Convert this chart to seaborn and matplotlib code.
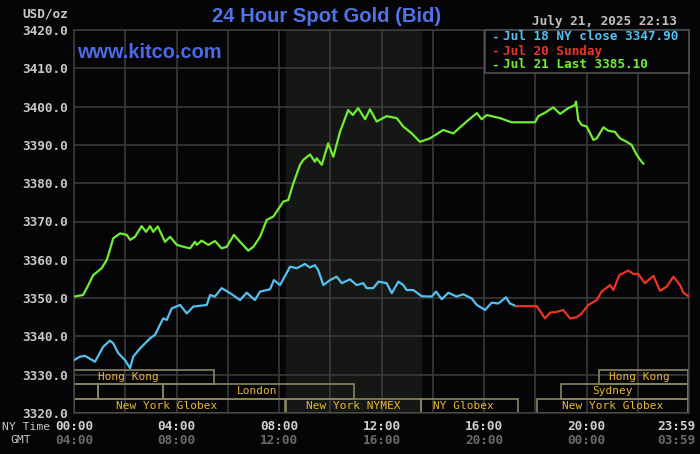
import matplotlib
matplotlib.use('Agg')
import matplotlib.pyplot as plt
import matplotlib.transforms as mtransforms
from matplotlib.patches import Rectangle
import pandas as pd
import seaborn as sns

# hours after 00:00 NY time, bid price (USD/oz)
green_hours = [0.0, 0.35, 0.50, 0.75, 1.08, 1.28, 1.40, 1.53, 1.80, 2.06, 2.19, 2.38, 2.64, 2.81,
               2.97, 3.09, 3.27, 3.55, 3.75, 4.01, 4.27, 4.53, 4.72, 4.79, 4.98, 5.24, 5.50, 5.76,
               5.96, 6.24, 6.48, 6.80, 7.00, 7.26, 7.52, 7.78, 8.04, 8.17, 8.36, 8.56, 8.82, 8.95,
               9.21, 9.40, 9.47, 9.67, 9.92, 10.12, 10.38, 10.70, 10.88, 11.09, 11.36, 11.55,
               11.81, 12.20, 12.59, 12.85, 13.18, 13.50, 13.89, 14.41, 14.80, 15.32, 15.72, 15.91,
               16.11, 16.62, 17.08, 17.99, 18.12, 18.38, 18.70, 18.97, 19.29, 19.55, 19.59, 19.68,
               19.81, 20.01, 20.27, 20.40, 20.66, 20.85, 21.11, 21.31, 21.57, 21.76, 21.96, 22.15,
               22.22]
green_prices = [3350.4, 3350.8, 3352.6, 3356.0, 3357.8, 3360.0, 3362.6, 3365.6, 3366.9, 3366.5,
                3365.2, 3366.0, 3368.8, 3367.3, 3368.8, 3367.3, 3368.7, 3364.7, 3366.0, 3363.9,
                3363.4, 3363.0, 3364.7, 3363.9, 3365.0, 3363.9, 3364.9, 3363.0, 3363.4, 3366.5,
                3364.7, 3362.4, 3363.4, 3366.0, 3370.4, 3371.3, 3373.9, 3375.2, 3375.6, 3380.0,
                3384.8, 3386.1, 3387.5, 3385.6, 3386.5, 3384.8, 3390.4, 3386.9, 3393.4, 3399.1,
                3397.8, 3399.6, 3396.7, 3399.3, 3396.1, 3397.5, 3397.0, 3394.8, 3393.0, 3390.8,
                3391.7, 3393.9, 3393.0, 3396.1, 3398.3, 3396.7, 3397.8, 3397.0, 3395.9, 3395.9,
                3397.5, 3398.4, 3399.8, 3398.1, 3399.6, 3400.4, 3401.3, 3396.5, 3395.2, 3394.8,
                3391.3, 3391.7, 3394.6, 3393.7, 3393.4, 3391.7, 3390.8, 3390.0, 3387.4, 3385.6,
                3385.1]

blue_hours = [0.0, 0.23, 0.43, 0.82, 1.14, 1.40, 1.53, 1.73, 1.99, 2.19, 2.31, 2.58, 2.97, 3.16,
              3.48, 3.62, 3.81, 4.14, 4.40, 4.66, 5.18, 5.31, 5.50, 5.76, 6.09, 6.48, 6.74, 7.06,
              7.26, 7.65, 7.80, 8.04, 8.43, 8.69, 9.01, 9.21, 9.40, 9.53, 9.73, 9.99, 10.25,
              10.45, 10.77, 11.03, 11.29, 11.42, 11.68, 11.88, 12.20, 12.40, 12.66, 12.85, 12.98,
              13.24, 13.57, 13.96, 14.13, 14.35, 14.61, 14.93, 15.19, 15.52, 15.72, 16.04, 16.30,
              16.56, 16.86, 17.01, 17.25]
blue_prices = [3333.8, 3334.7, 3334.9, 3333.4, 3337.3, 3338.9, 3338.2, 3335.6, 3333.8, 3331.7,
               3334.7, 3336.9, 3339.5, 3340.4, 3344.7, 3344.3, 3347.3, 3348.2, 3346.0, 3347.8,
               3348.2, 3350.8, 3350.4, 3352.6, 3351.3, 3349.5, 3351.4, 3349.5, 3351.7, 3352.3,
               3354.7, 3353.4, 3358.2, 3357.8, 3358.9, 3358.0, 3358.6, 3357.3, 3353.4, 3354.7,
               3355.6, 3353.9, 3354.9, 3353.4, 3353.9, 3352.6, 3352.6, 3354.3, 3353.9, 3351.3,
               3354.3, 3353.4, 3352.1, 3352.1, 3350.5, 3350.4, 3351.7, 3349.7, 3351.4, 3350.4,
               3351.0, 3349.9, 3348.2, 3346.9, 3348.8, 3348.6, 3350.2, 3348.6, 3347.9]

red_hours = [17.25, 18.06, 18.38, 18.58, 18.84, 19.09, 19.36, 19.62, 19.81, 20.07, 20.40, 20.59,
             20.92, 21.05, 21.28, 21.63, 21.83, 22.02, 22.28, 22.61, 22.87, 23.13, 23.39, 23.65,
             23.78, 23.98]
red_prices = [3347.9, 3347.9, 3344.7, 3346.2, 3346.4, 3346.9, 3344.7, 3345.0, 3346.0, 3348.2,
              3349.5, 3351.7, 3353.4, 3352.1, 3356.0, 3357.2, 3356.3, 3356.3, 3353.9, 3355.8,
              3351.9, 3353.0, 3355.6, 3353.4, 3351.4, 3350.5]

series_names = ['Jul 18 NY close 3347.90', 'Jul 20 Sunday', 'Jul 21 Last 3385.10']
series_colors = ['#55c0f0', '#ee3322', '#70ee33']

y_ticks = [3320, 3330, 3340, 3350, 3360, 3370, 3380, 3390, 3400, 3410, 3420]
x_ticks = [0, 4, 8, 12, 16, 20, 24]
ny_labels = ['00:00', '04:00', '08:00', '12:00', '16:00', '20:00', '23:59']
gmt_labels = ['04:00', '08:00', '12:00', '16:00', '20:00', '00:00', '03:59']

# trading sessions: name, start hour, end hour, row (0 = top), label position
session_names = ['Hong Kong', 'Hong Kong', '', '', 'London', 'Sydney',
                 'New York Globex', 'New York NYMEX', 'NY Globex', 'New York Globex']
session_start = [0, 20.5, 0, 0.94, 3.47, 19.0, 0, 8.27, 13.53, 18.06]
session_end = [5.46, 23.95, 0.94, 3.47, 10.94, 23.95, 8.23, 13.53, 17.31, 23.95]
session_row = [0, 0, 1, 1, 1, 1, 2, 2, 2, 2]
session_label_at = [2.11, 22.05, None, None, 7.14, 21.0, 3.63, 10.9, 15.18, 21.0]
nymex_hours = (8.27, 13.53)

df = pd.concat([
    pd.DataFrame({'hour': blue_hours, 'price': blue_prices, 'series': series_names[0]}),
    pd.DataFrame({'hour': red_hours, 'price': red_prices, 'series': series_names[1]}),
    pd.DataFrame({'hour': green_hours, 'price': green_prices, 'series': series_names[2]}),
])

BG = '#050507'
GRID = '#3e3e3e'
MONO = 'DejaVu Sans Mono'

fig = plt.figure(figsize=(7, 4.54), dpi=100, facecolor=BG)
ax = fig.add_axes([74 / 700, 41 / 454, 615 / 700, 383 / 454])
ax.set_facecolor(BG)

ax.axvspan(*nymex_hours, color='#151715', zorder=0)

sns.lineplot(data=df, x='hour', y='price', hue='series', palette=dict(zip(series_names, series_colors)),
             estimator=None, sort=False, linewidth=1.6, legend=False, ax=ax, zorder=3)

ax.set_xlim(0, 24)
ax.set_ylim(3320, 3420)
ax.set_xticks(range(0, 25, 2))
ax.set_yticks(y_ticks)
ax.set_yticklabels([f'{v:.1f}' for v in y_ticks], fontfamily=MONO, fontweight='bold',
                   fontsize=9.2, color='#c8c8c8')
ax.set_xticklabels([])
ax.tick_params(length=0, pad=4.3)
ax.grid(True, color=GRID, linewidth=1.1)
ax.set_axisbelow(True)
for s in ax.spines.values():
    s.set_color(GRID)
    s.set_linewidth(1.1)
ax.set_xlabel('')
ax.set_ylabel('')

# session boxes
row_h = 0.0375
trans = mtransforms.blended_transform_factory(ax.transData, ax.transAxes)
for name, a, b, r, lx in zip(session_names, session_start, session_end, session_row, session_label_at):
    y0 = (2 - r) * row_h
    ax.add_patch(Rectangle((a, y0), b - a, row_h, transform=trans, fill=False,
                           edgecolor='#8a8560', linewidth=1.2, zorder=2))
    if name:
        ax.text(lx, y0 + row_h / 2, name, transform=trans, ha='center', va='center',
                fontfamily=MONO, fontsize=8, color='#e8b830', zorder=4)

# time labels under the axes
xt = mtransforms.blended_transform_factory(ax.transData, fig.transFigure)
for i, (h, ny, gmt) in enumerate(zip(x_ticks, ny_labels, gmt_labels)):
    ha = 'center'
    tr = xt
    if i == len(x_ticks) - 1:
        ha = 'right'
        tr = xt + mtransforms.ScaledTranslation(6 / 100, 0, fig.dpi_scale_trans)
    fig.text(h, 1 - 426 / 454, ny, transform=tr, ha=ha, va='center', fontfamily=MONO,
             fontweight='bold', fontsize=9.2, color='#d0d0d0')
    fig.text(h, 1 - 441 / 454, gmt, transform=tr, ha=ha, va='center', fontfamily=MONO,
             fontweight='bold', fontsize=9.2, color='#6a6a6a')
fig.text(26 / 700, 1 - 427 / 454, 'NY Time', ha='center', va='center', fontfamily=MONO,
         fontsize=8.2, color='#c8c8c8')
fig.text(21 / 700, 1 - 440 / 454, 'GMT', ha='center', va='center', fontfamily=MONO,
         fontsize=8.2, color='#c8c8c8')

# header texts
fig.text(68 / 700, 1 - 14 / 454, 'USD/oz', ha='right', va='center', fontfamily=MONO,
         fontweight='bold', fontsize=9.2, color='#c8c8c8')
fig.text(327 / 700, 1 - 17 / 454, '24 Hour Spot Gold (Bid)', ha='center', va='center',
         fontfamily='Liberation Sans', fontweight='bold', fontsize=14.6, color='#5073e8')
fig.text(77 / 700, 1 - 53 / 454, 'www.kitco.com', ha='left', va='center',
         fontfamily='Liberation Sans', fontweight='bold', fontsize=14.4, color='#4a6ae6')
fig.text(677 / 700, 1 - 22 / 454, 'July 21, 2025 22:13', ha='right', va='center', fontfamily=MONO,
         fontweight='bold', fontsize=9.2, color='#c0c0c0')

# legend box
fig.patches.append(Rectangle((485 / 700, 1 - 73 / 454), 204 / 700, 43 / 454, transform=fig.transFigure,
                             facecolor=BG, edgecolor='#555555', linewidth=1.1, zorder=5))
for i, (name, col) in enumerate(zip(series_names, series_colors)):
    yy = 1 - (37 + 14 * i) / 454
    fig.text(491 / 700, yy, '-', ha='left', va='center', fontfamily=MONO, fontweight='bold',
             fontsize=9.2, color=col, zorder=6)
    fig.text(503 / 700, yy, name, ha='left', va='center', fontfamily=MONO, fontweight='bold',
             fontsize=9.2, color=col, zorder=6)

fig.savefig('out.png', dpi=100, facecolor=BG)
